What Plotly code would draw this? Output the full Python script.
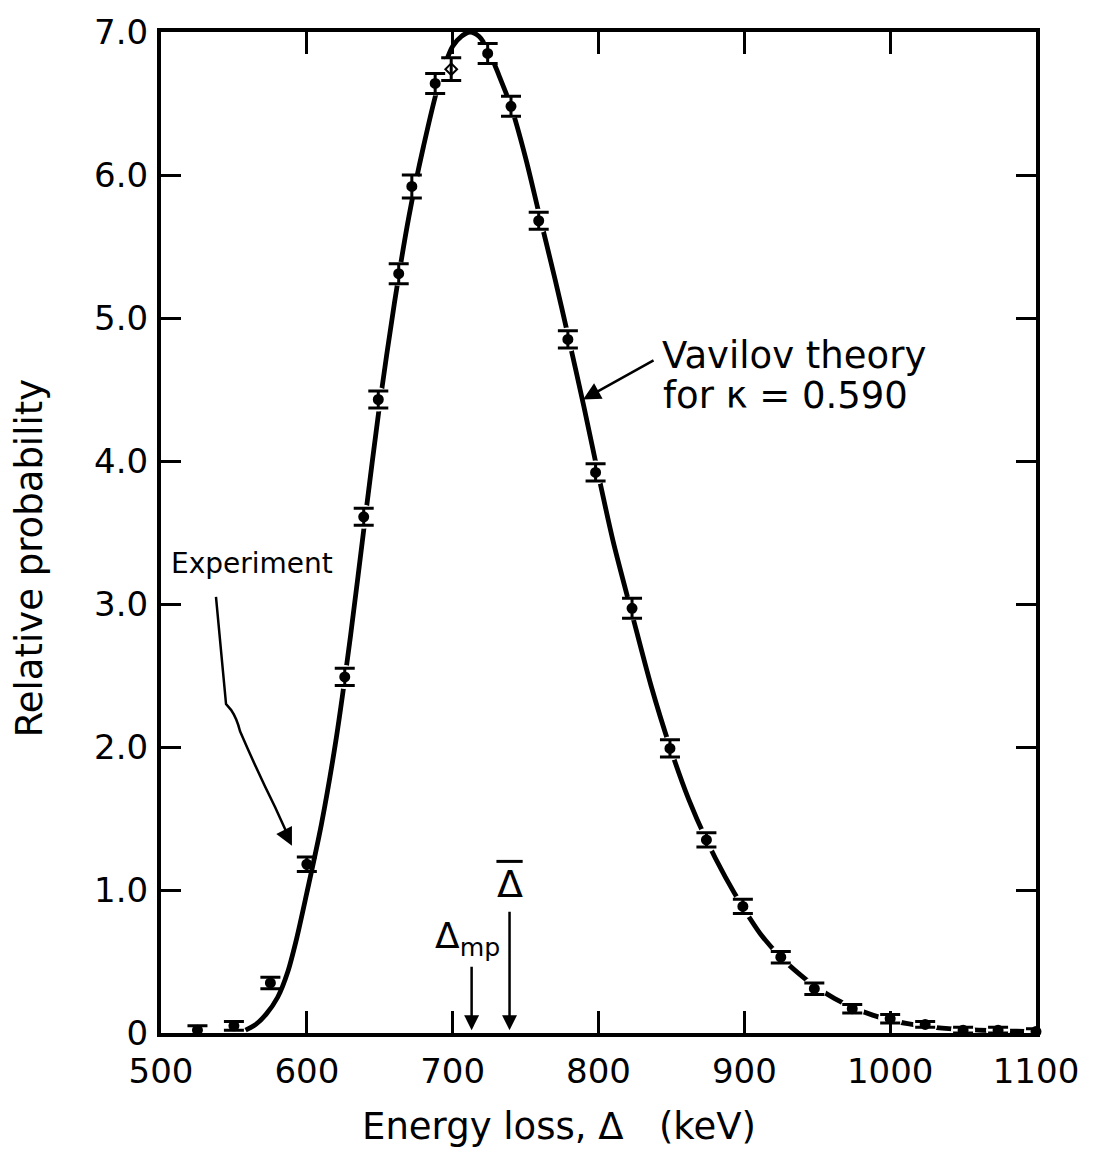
import plotly.graph_objects as go

# ---- data ----
exp_energy = [525, 550, 575, 600, 626, 639, 649, 663, 672, 688, 699, 724, 740, 759,
              779, 798, 823, 849, 874, 899, 925, 948, 974, 1000, 1024, 1050, 1074, 1100]
exp_prob = [0.02, 0.05, 0.35, 1.18, 2.49, 3.61, 4.43, 5.31, 5.92, 6.64, 6.74, 6.85, 6.48, 5.68,
            4.85, 3.92, 2.97, 1.99, 1.35, 0.885, 0.53, 0.31, 0.17, 0.10, 0.06, 0.02, 0.02, 0.01]
exp_err = [0.03, 0.03, 0.04, 0.05, 0.06, 0.06, 0.06, 0.07, 0.08, 0.07, 0.08, 0.07, 0.07, 0.06,
           0.06, 0.06, 0.07, 0.06, 0.05, 0.05, 0.04, 0.04, 0.03, 0.03, 0.02, 0.02, 0.02, 0.02]
exp_open = [699]  # points drawn with an open marker

theory_energy = [558, 565, 572, 580, 587, 593, 600, 610, 620, 630, 640, 650, 660, 670, 680,
                 690, 700, 706, 712, 718, 725, 732, 740, 750, 759, 770, 779.5, 790, 798.5,
                 810, 823, 836, 849, 862, 874, 887, 899, 912, 925, 938, 948, 962, 974, 988,
                 1000, 1012, 1025, 1050, 1075, 1100]
theory_prob = [0.02, 0.06, 0.13, 0.25, 0.43, 0.66, 0.98, 1.46, 2.05, 2.78, 3.6, 4.4, 5.1, 5.71,
               6.2, 6.62, 6.9, 6.97, 7.0, 6.97, 6.86, 6.69, 6.48, 6.12, 5.74, 5.28, 4.86, 4.38,
               3.97, 3.44, 2.93, 2.43, 2.0, 1.63, 1.35, 1.09, 0.88, 0.68, 0.53, 0.41, 0.33,
               0.24, 0.18, 0.125, 0.09, 0.065, 0.045, 0.025, 0.015, 0.01]

x_ticks = [500, 600, 700, 800, 900, 1000, 1100]
x_ticktext = ["500", "600", "700", "800", "900", "1000", "1100"]
y_ticks = [0, 1, 2, 3, 4, 5, 6, 7]
y_ticktext = ["0", "1.0", "2.0", "3.0", "4.0", "5.0", "6.0", "7.0"]

delta_mp = 713
delta_mean = 739
kappa = "0.590"

FONT = "DejaVu Sans"

fig = go.Figure()

# theory curve
fig.add_trace(go.Scatter(
    x=theory_energy, y=theory_prob, mode="lines",
    line=dict(color="black", width=4.8, shape="spline", smoothing=0.8),
    hoverinfo="skip"))

# white gaps in the curve around the on-curve points
gx = [e for e, p in zip(exp_energy, exp_prob) if e >= 620]
gy = [p for e, p in zip(exp_energy, exp_prob) if e >= 620]
fig.add_trace(go.Scatter(
    x=gx, y=gy, mode="markers",
    marker=dict(color="white", size=24, line=dict(width=0)),
    hoverinfo="skip"))

# experiment
symbols = ["diamond-open" if e in exp_open else "circle" for e in exp_energy]
fig.add_trace(go.Scatter(
    x=exp_energy, y=exp_prob, mode="markers",
    marker=dict(color="black", size=9, symbol=symbols, line=dict(color="black", width=2)),
    error_y=dict(type="data", array=exp_err, color="black", thickness=3, width=10),
    cliponaxis=False))

axis_common = dict(
    showline=True, linewidth=4, linecolor="black", mirror="ticks",
    ticks="inside", tickwidth=3, tickcolor="black",
    showgrid=False, zeroline=False,
    tickfont=dict(family=FONT, size=34, color="black"),
)

fig.update_layout(
    width=1099, height=1154,
    margin=dict(l=161, r=63, t=21, b=121),
    plot_bgcolor="white", paper_bgcolor="white",
    showlegend=False,
    xaxis=dict(range=[500, 1100], tickvals=x_ticks, ticktext=x_ticktext,
               ticklen=22, ticklabelstandoff=5, **axis_common),
    yaxis=dict(range=[0, 7], tickvals=y_ticks, ticktext=y_ticktext,
               ticklen=20, ticklabelstandoff=2, **axis_common),
)

ann_font = dict(family=FONT, color="black")

# axis titles
fig.add_annotation(x=0.455, y=-0.093, xref="paper", yref="paper",
                   xanchor="center", yanchor="middle",
                   text="Energy loss, Δ   (keV)", showarrow=False,
                   font=dict(size=37, **ann_font))
fig.add_annotation(x=-0.150, y=0.474, xref="paper", yref="paper",
                   xanchor="center", yanchor="middle",
                   text="Relative probability", textangle=-90, showarrow=False,
                   font=dict(size=37, **ann_font))

# Vavilov label
fig.add_annotation(x=842, y=4.74, xref="x", yref="y", xanchor="left", yanchor="middle",
                   text="Vavilov theory", showarrow=False,
                   font=dict(size=37, **ann_font))
fig.add_annotation(x=843, y=4.46, xref="x", yref="y", xanchor="left", yanchor="middle",
                   text="for κ = " + kappa, showarrow=False,
                   font=dict(size=37, **ann_font))
fig.add_annotation(x=789.4, y=4.43, xref="x", yref="y", ax=72, ay=-40,
                   text="", showarrow=True, arrowhead=2, arrowsize=1.4, arrowwidth=2.5,
                   arrowcolor="black")

# Experiment label with curved arrow
fig.add_annotation(x=562.4, y=3.28, xref="x", yref="y",
                   xanchor="center", yanchor="middle",
                   text="Experiment", showarrow=False, font=dict(size=28, **ann_font))
fig.add_shape(type="path",
              path="M 537.7 3.05 L 544.6 2.30 L 548.0 2.26 Q 552 2.2 554.2 2.11 "
                   "Q 566.5 1.82 578.2 1.58 L 588.5 1.35",
              xref="x", yref="y", line=dict(color="black", width=2.5))
fig.add_annotation(x=589.8, y=1.31, xref="x", yref="y", ax=-8, ay=-16,
                   text="", showarrow=True, arrowhead=2, arrowsize=1.4, arrowwidth=2.5,
                   arrowcolor="black")

# Delta_mp
fig.add_annotation(x=710, y=0.66, xref="x", yref="y", xanchor="center", yanchor="middle",
                   text="Δ<sub>mp</sub>", showarrow=False, font=dict(size=36, **ann_font))
fig.add_annotation(x=delta_mp, y=0.02, xref="x", yref="y", ax=0, ay=-65,
                   text="", showarrow=True, arrowhead=2, arrowsize=1.2, arrowwidth=2.5,
                   arrowcolor="black")

# Delta mean
fig.add_annotation(x=delta_mean, y=1.04, xref="x", yref="y", xanchor="center", yanchor="middle",
                   text="Δ", showarrow=False, font=dict(size=38, **ann_font))
fig.add_shape(type="line", x0=delta_mean - 9, x1=delta_mean + 9, y0=1.2, y1=1.2,
              xref="x", yref="y", line=dict(color="black", width=3))
fig.add_annotation(x=delta_mean, y=0.02, xref="x", yref="y", ax=0, ay=-120,
                   text="", showarrow=True, arrowhead=2, arrowsize=1.2, arrowwidth=2.5,
                   arrowcolor="black")

fig.write_html("out.html")
